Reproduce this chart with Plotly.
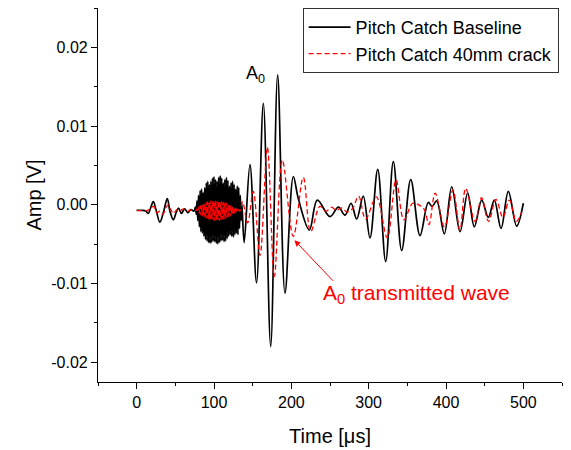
import plotly.graph_objects as go

# ---------------- data ----------------
# Pitch Catch Baseline (black): early small packet, dense band, A0 packet, tail
base_pre_t = [0, 8, 12, 15, 18, 21.5, 25, 30, 35, 39.6, 43, 47.4, 51, 54, 58, 62, 66, 70, 74]
base_pre_v = [-0.0007, -0.0007, -0.0008, -0.0011, -0.0004, 0.0004, -0.0006, -0.0022, -0.0008,
              0.0008, -0.0008, -0.0019, -0.0010, -0.0004, -0.0011, -0.0005, -0.0010, -0.0006, -0.0008]

base_band_t = list(range(76, 137))
base_band_v = [-0.0003, -0.0012, 0.0005, -0.0020, 0.0012, -0.0028, 0.0018, -0.0034, 0.0020, -0.0036,
               0.0016, -0.0040, 0.0022, -0.0044, 0.0028, -0.0046, 0.0030, -0.0048, 0.0026, -0.0049,
               0.0030, -0.0048, 0.0034, -0.0046, 0.0036, -0.0047, 0.0032, -0.0049, 0.0030, -0.0050,
               0.0035, -0.0048, 0.0037, -0.0046, 0.0034, -0.0045, 0.0028, -0.0047, 0.0032, -0.0046,
               0.0035, -0.0043, 0.0031, -0.0040, 0.0024, -0.0038, 0.0028, -0.0040, 0.0030, -0.0041,
               0.0026, -0.0038, 0.0020, -0.0036, 0.0024, -0.0038, 0.0022, -0.0030, 0.0012, -0.0020,
               0.0002]

base_main_t = [139, 146.5, 155, 163.8, 173.3, 182.3, 191.8, 202.6, 209, 223.3, 233.6, 250, 260.8,
               269.4, 277.2, 284.5, 293, 301.7, 311.7, 322, 331.9, 342.7, 354.4, 366.4, 377.1, 382,
               388, 397.8, 407.4, 418.1, 428, 436.6, 446.2, 454.7, 462.5, 471.2, 480.6, 491.4, 500]
base_main_v = [-0.0048, 0.0051, -0.0099, 0.0129, -0.0180, 0.0165, -0.0112, 0.0036, 0.0008, -0.0032,
               0.0006, -0.0015, -0.0003, -0.0013, 0.0002, -0.0018, 0.0011, -0.0042, 0.0045, -0.0072,
               0.0055, -0.0058, 0.0032, -0.0039, 0.0003, -0.0002, 0.0005, -0.0037, 0.0023, -0.0034,
               0.0015, -0.0028, 0.0006, -0.0016, 0.0006, -0.0030, 0.0017, -0.0027, 0.0002]

# Pitch Catch 40mm crack (red dashed)
crack_pre_t = [0, 14, 18, 22, 26, 30, 34, 38, 41, 44, 48, 52, 56, 60, 66, 72, 77]
crack_pre_v = [-0.0007, -0.0007, -0.0004, -0.0002, -0.0010, -0.0008, -0.0012, -0.0003, 0.0000,
               -0.0006, -0.0011, -0.0006, -0.0008, -0.0005, -0.0008, -0.0006, -0.0007]

crack_band_t = list(range(78, 135))
crack_band_v = [-0.0005, -0.0009, -0.0003, -0.0011, -0.0001, -0.0013, 0.0000, -0.0014, 0.0001, -0.0015,
                0.0002, -0.0016, 0.0003, -0.0017, 0.0004, -0.0018, 0.0004, -0.0019, 0.0005, -0.0019,
                0.0004, -0.0019, 0.0005, -0.0020, 0.0005, -0.0019, 0.0004, -0.0019, 0.0005, -0.0020,
                0.0004, -0.0019, 0.0004, -0.0018, 0.0003, -0.0018, 0.0003, -0.0017, 0.0002, -0.0016,
                0.0001, -0.0015, 0.0000, -0.0014, -0.0001, -0.0013, -0.0002, -0.0012, -0.0003, -0.0011,
                -0.0004, -0.0010, -0.0005, -0.0009, -0.0006, -0.0008, -0.0007]

crack_main_t = [137, 143.5, 150.8, 159.5, 169, 178, 188.3, 202.5, 215.5, 225, 237, 245, 252, 258,
                265, 272, 279, 287, 296, 310, 324, 335.4, 345.5, 357, 365, 372, 378, 386, 398, 409,
                418, 425.5, 437.6, 446, 455, 464.6, 473.6, 482, 491, 498]
crack_main_v = [0.0004, -0.0023, 0.0017, -0.0064, 0.0073, -0.0091, 0.0057, -0.0040, 0.0035, -0.0034,
                -0.0002, -0.0008, -0.0003, -0.0007, -0.0004, -0.0009, -0.0005, 0.0011, -0.0018, 0.0010,
                -0.0042, 0.0032, -0.0019, 0.0002, 0.0000, -0.0006, -0.0025, 0.0015, -0.0028, 0.0019,
                -0.0032, 0.0021, -0.0021, 0.0009, -0.0021, 0.0007, -0.0016, 0.0006, -0.0021, -0.0009]

x_tick_vals = [0, 100, 200, 300, 400, 500]
x_tick_text = ["0", "100", "200", "300", "400", "500"]
y_tick_vals = [-0.02, -0.01, 0.0, 0.01, 0.02]
y_tick_text = ["-0.02", "-0.01", "0.00", "0.01", "0.02"]

series_names = ["Pitch Catch Baseline", "Pitch Catch 40mm crack"]

# ---------------- figure ----------------
FONT = "Arial, Liberation Sans, sans-serif"

base_t = base_pre_t + base_band_t + base_main_t
base_v = base_pre_v + base_band_v + base_main_v
crack_t = crack_pre_t + crack_band_t + crack_main_t
crack_v = crack_pre_v + crack_band_v + crack_main_v

fig = go.Figure()
fig.add_trace(go.Scatter(x=base_t, y=base_v, mode="lines", name=series_names[0],
                         line=dict(color="black", width=1.7, shape="spline", smoothing=1)))
fig.add_trace(go.Scatter(x=crack_t, y=crack_v, mode="lines", name=series_names[1],
                         line=dict(color="red", width=1.3, dash="5px,3px", shape="spline", smoothing=1)))

# the page body adds an 8px offset, so the figure is 8px smaller than the window
fig.update_layout(
    width=563, height=442,
    margin=dict(l=90, r=9, t=0, b=68, autoexpand=False),
    paper_bgcolor="white", plot_bgcolor="white",
    font=dict(family=FONT, size=16, color="black"),
    showlegend=True,
    legend=dict(x=0.441, y=1.0, xanchor="left", yanchor="top",
                bgcolor="white", bordercolor="#333333", borderwidth=1,
                font=dict(size=18, family=FONT), itemwidth=42,
                tracegroupgap=0),
    xaxis=dict(range=[-50, 550], showline=True, linecolor="black", linewidth=1.2,
               ticks="outside", ticklen=6, tickwidth=1.2, tickcolor="black",
               tickvals=x_tick_vals, ticktext=x_tick_text,
               minor=dict(dtick=50, ticks="outside", ticklen=3, tickwidth=1.2, tickcolor="black"),
               showgrid=False, zeroline=False, mirror=False, automargin=False,
               tickfont=dict(size=16),
               title=dict(text="Time [μs]", font=dict(size=20), standoff=18)),
    yaxis=dict(range=[-0.0225, 0.025], showline=True, linecolor="black", linewidth=1.2,
               ticks="outside", ticklen=6, tickwidth=1.2, tickcolor="black",
               tickvals=y_tick_vals, ticktext=y_tick_text,
               minor=dict(dtick=0.005, tick0=0, ticks="outside", ticklen=3, tickwidth=1.2, tickcolor="black"),
               showgrid=False, zeroline=False, mirror=False, automargin=False,
               tickfont=dict(size=16),
               title=dict(text="Amp [V]", font=dict(size=20), standoff=4)),
    annotations=[
        dict(x=154, y=0.0166, xref="x", yref="y", text="A<sub>0</sub>", showarrow=False,
             font=dict(size=18, color="black", family=FONT)),
        dict(x=362, y=-0.0113, xref="x", yref="y", text="A<sub>0</sub> transmitted wave",
             showarrow=False, font=dict(size=21, color="red", family=FONT)),
        dict(x=204, y=-0.0045, xref="x", yref="y", text="", showarrow=True,
             ax=40, ay=42, axref="pixel", ayref="pixel",
             arrowhead=2, arrowsize=1.2, arrowwidth=1, arrowcolor="red"),
    ],
)

fig.write_html("out.html")
